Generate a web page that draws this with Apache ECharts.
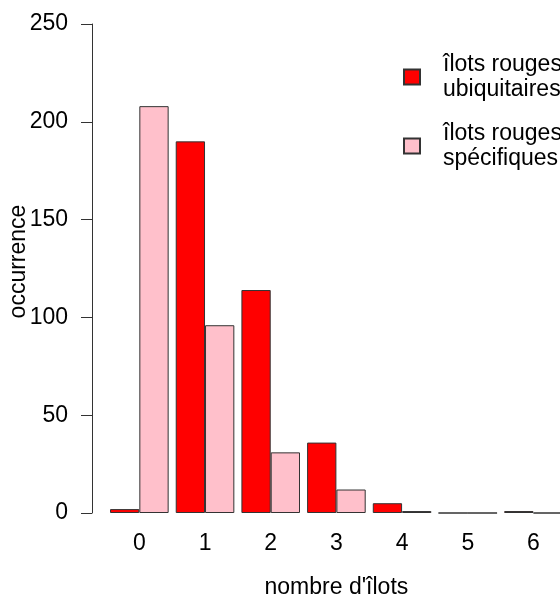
<!DOCTYPE html>
<html>
<head>
<meta charset="utf-8">
<script src="https://cdn.jsdelivr.net/npm/echarts@6/dist/echarts.min.js"></script>
<style>
  html, body { margin: 0; padding: 0; background: #fff; }
  #chart { width: 560px; height: 596px; }
</style>
</head>
<body>
<div id="chart"></div>
<script>
// counts per number of islands
const categories = ['0', '1', '2', '3', '4', '5', '6'];
const ubiquitaires = [2, 190, 114, 36, 5, 0, 1];
const specifiques = [208, 96, 31, 12, 1, 0, 0];
const seriesNames = ['îlots rouges\nubiquitaires', 'îlots rouges\nspécifiques'];

const font = 'Liberation Sans, Arial, sans-serif';
const textColor = '#000';
const fontSize = 23;

const chart = echarts.init(document.getElementById('chart'));

chart.setOption({
  backgroundColor: '#fff',
  animation: false,
  textStyle: { fontFamily: font },
  legend: {
    orient: 'vertical',
    left: 398,
    top: 44,
    itemWidth: 16,
    itemHeight: 15,
    itemGap: 13,
    icon: 'rect',
    textStyle: {
      color: textColor, fontSize: fontSize, lineHeight: 25, fontFamily: font,
      padding: [0, 0, 6, 18]
    },
    data: seriesNames
  },
  grid: {
    top: 24,
    bottom: 83,
    left: 106.5,
    right: -6.3,
    containLabel: false,
    outerBoundsMode: 'none'
  },
  xAxis: {
    type: 'category',
    data: categories,
    name: "nombre d'îlots",
    nameLocation: 'middle',
    nameGap: 63,
    nameMoveOverlap: false,
    nameTextStyle: { color: textColor, fontSize: fontSize, fontFamily: font, verticalAlign: 'top' },
    axisLine: { show: false },
    axisTick: { show: false },
    axisLabel: { color: textColor, fontSize: fontSize, margin: 19, fontFamily: font }
  },
  yAxis: {
    type: 'value',
    min: 0,
    max: 250,
    interval: 50,
    offset: 14.5,
    name: 'occurrence',
    nameLocation: 'middle',
    nameGap: 62,
    nameMoveOverlap: false,
    nameTextStyle: { color: textColor, fontSize: fontSize, fontFamily: font, padding: [0, 0, 0, 14] },
    axisLine: { show: true, lineStyle: { color: '#333', width: 1 } },
    axisTick: { show: true, length: 11, lineStyle: { color: '#333' } },
    axisLabel: { color: textColor, fontSize: fontSize, margin: 24, fontFamily: font },
    splitLine: { show: false }
  },
  series: [
    {
      name: seriesNames[0],
      type: 'bar',
      data: ubiquitaires,
      barWidth: 29.3,
      barGap: '0%',
      itemStyle: { color: '#ff0000', borderColor: '#333', borderWidth: 1 }
    },
    {
      name: seriesNames[1],
      type: 'bar',
      data: specifiques,
      barWidth: 29.3,
      barGap: '0%',
      itemStyle: { color: '#ffc0cb', borderColor: '#333', borderWidth: 1 }
    }
  ]
});
</script>
</body>
</html>
